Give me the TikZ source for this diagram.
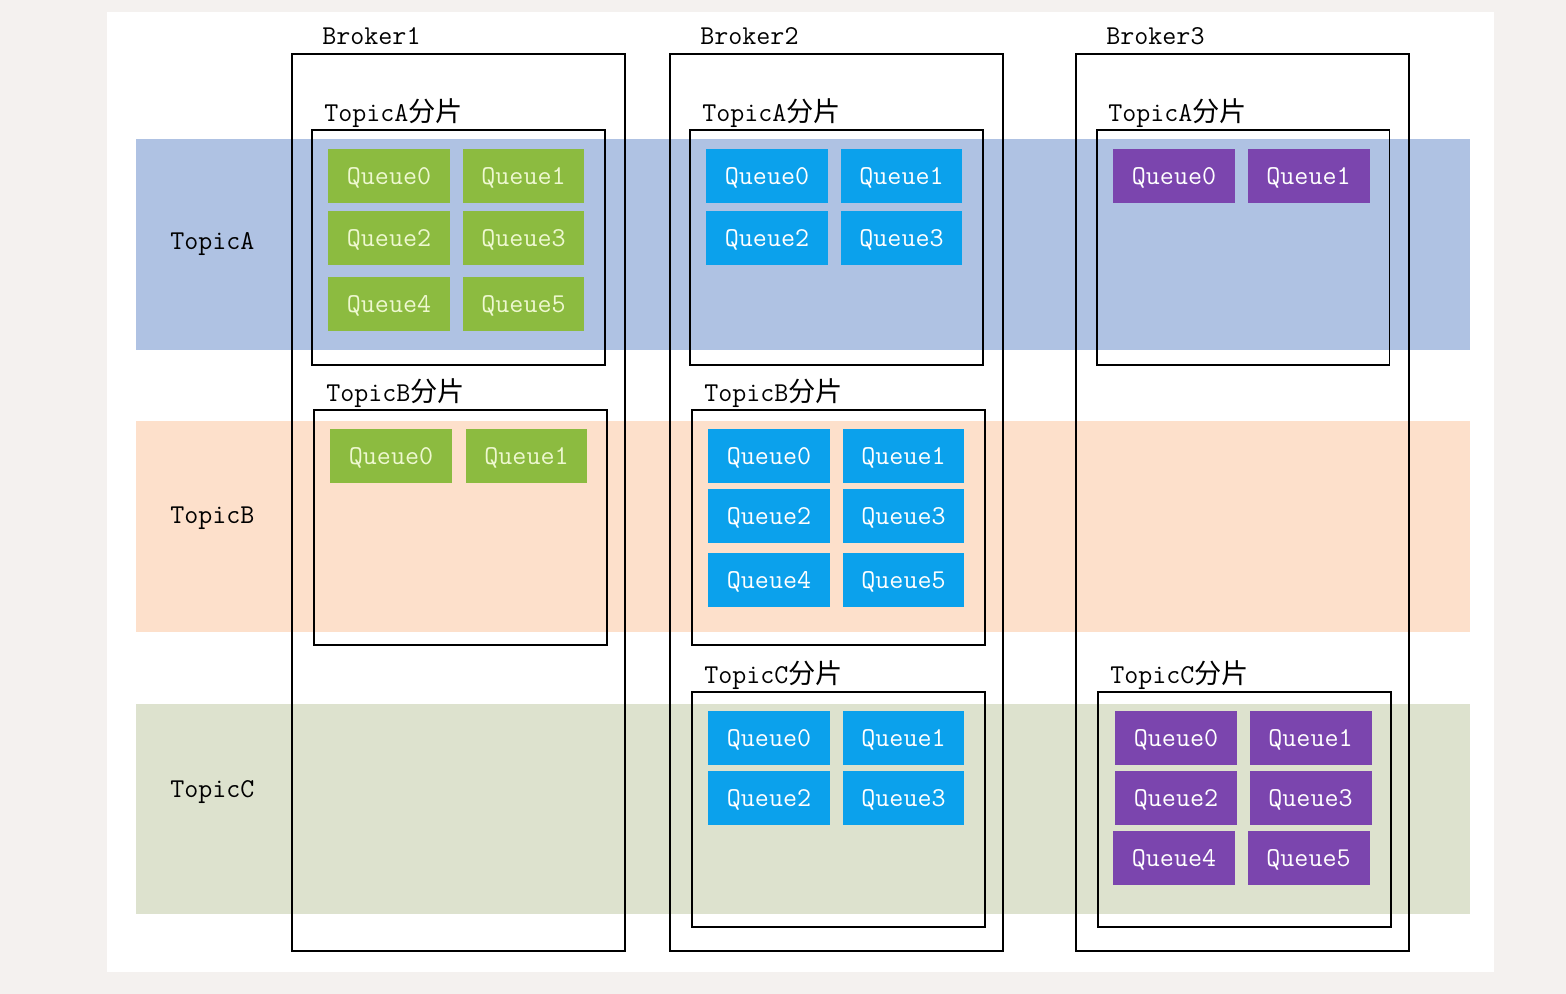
\documentclass[tikz,border=0pt]{standalone}
\usepackage{fontspec}
\newfontfamily\cjk{Noto Sans CJK SC}
\newcommand\qfont{\fontsize{15.5}{15.5}\selectfont\ttfamily}
\newcommand\shardname[1]{{\ttfamily #1}{\cjk 分片}}

\definecolor{pagebg}{HTML}{F4F1EF}
\definecolor{bandA}{HTML}{AFC2E3}
\definecolor{bandB}{HTML}{FDE0CB}
\definecolor{bandC}{HTML}{DDE2CE}
\definecolor{qgreen}{HTML}{8CBB40}
\definecolor{qgreentext}{HTML}{EEF8D0}
\definecolor{qblue}{HTML}{0BA1EC}
\definecolor{qpurple}{HTML}{7B45AE}

\tikzset{
  brokerbox/.style={draw, line width=1.1pt, minimum width=6.66cm, minimum height=17.94cm, inner sep=0},
  shardbox/.style={draw, line width=1.1pt, minimum width=5.86cm, minimum height=4.7cm, inner sep=0},
  queue/.style={minimum width=2.44cm, minimum height=1.08cm, inner sep=0, font=\qfont, text depth=0pt},
  greenq/.style={queue, fill=qgreen, text=qgreentext},
  blueq/.style={queue, fill=qblue, text=white},
  purpleq/.style={queue, fill=qpurple, text=white},
  tag/.style={anchor=west, inner sep=0, font=\qfont, yshift=-0.05cm},
}

\begin{document}
\begin{tikzpicture}[x=0.02cm, y=-0.02cm]
\useasboundingbox (0,0) rectangle (1566,994);
\fill[pagebg] (0,0) rectangle (1566,994);
\fill[white] (107,12) rectangle (1494,972);

% topic bands
\fill[bandA] (136,139) rectangle (1470,350);
\fill[bandB] (136,421) rectangle (1470,632);
\fill[bandC] (136,704) rectangle (1470,914);

\node[tag] (topicA) at (170,242) {TopicA};
\node[tag] (topicB) at (170,516) {TopicB};
\node[tag] (topicC) at (170,790) {TopicC};

% brokers
\node[brokerbox] (broker1) at (458.5,502.5) {};
\node[brokerbox] (broker2) at (836.5,502.5) {};
\node[brokerbox] (broker3) at (1242.5,502.5) {};
\node[tag] (broker1name) at (322,34) {Broker1};
\node[tag] (broker2name) at (700,34) {Broker2};
\node[tag] (broker3name) at (1106,34) {Broker3};

% shards
\node[shardbox] (b1a) at (458.5,247.5) {};
\node[shardbox] (b1b) at (460.5,527.5) {};
\node[shardbox] (b2a) at (836.5,247.5) {};
\node[shardbox] (b2b) at (838.5,527.5) {};
\node[shardbox] (b2c) at (838.5,809.5) {};
\node[shardbox] (b3a) at (1243,247.5) {};
\node[shardbox] (b3c) at (1244.5,809.5) {};

\node[tag] (b1aname) at (324,111) {\shardname{TopicA}};
\node[tag] (b1bname) at (326,391) {\shardname{TopicB}};
\node[tag] (b2aname) at (702,111) {\shardname{TopicA}};
\node[tag] (b2bname) at (704,391) {\shardname{TopicB}};
\node[tag] (b2cname) at (704,673) {\shardname{TopicC}};
\node[tag] (b3aname) at (1108,111) {\shardname{TopicA}};
\node[tag] (b3cname) at (1110,673) {\shardname{TopicC}};

% Broker1 queues
\node[greenq] (b1a0) at (389,176) {Queue0};
\node[greenq] (b1a1) at (523.5,176) {Queue1};
\node[greenq] (b1a2) at (389,238) {Queue2};
\node[greenq] (b1a3) at (523.5,238) {Queue3};
\node[greenq] (b1a4) at (389,304) {Queue4};
\node[greenq] (b1a5) at (523.5,304) {Queue5};
\node[greenq] (b1b0) at (391,456) {Queue0};
\node[greenq] (b1b1) at (526.5,456) {Queue1};

% Broker2 queues
\node[blueq] (b2a0) at (767,176) {Queue0};
\node[blueq] (b2a1) at (901.5,176) {Queue1};
\node[blueq] (b2a2) at (767,238) {Queue2};
\node[blueq] (b2a3) at (901.5,238) {Queue3};
\node[blueq] (b2b0) at (769,456) {Queue0};
\node[blueq] (b2b1) at (903.5,456) {Queue1};
\node[blueq] (b2b2) at (769,516) {Queue2};
\node[blueq] (b2b3) at (903.5,516) {Queue3};
\node[blueq] (b2b4) at (769,580) {Queue4};
\node[blueq] (b2b5) at (903.5,580) {Queue5};
\node[blueq] (b2c0) at (769,738) {Queue0};
\node[blueq] (b2c1) at (903.5,738) {Queue1};
\node[blueq] (b2c2) at (769,798) {Queue2};
\node[blueq] (b2c3) at (903.5,798) {Queue3};

% Broker3 queues
\node[purpleq] (b3a0) at (1174,176) {Queue0};
\node[purpleq] (b3a1) at (1308.5,176) {Queue1};
\node[purpleq] (b3c0) at (1176,738) {Queue0};
\node[purpleq] (b3c1) at (1310.5,738) {Queue1};
\node[purpleq] (b3c2) at (1176,798) {Queue2};
\node[purpleq] (b3c3) at (1310.5,798) {Queue3};
\node[purpleq] (b3c4) at (1174,858) {Queue4};
\node[purpleq] (b3c5) at (1308.5,858) {Queue5};
\end{tikzpicture}
\end{document}
